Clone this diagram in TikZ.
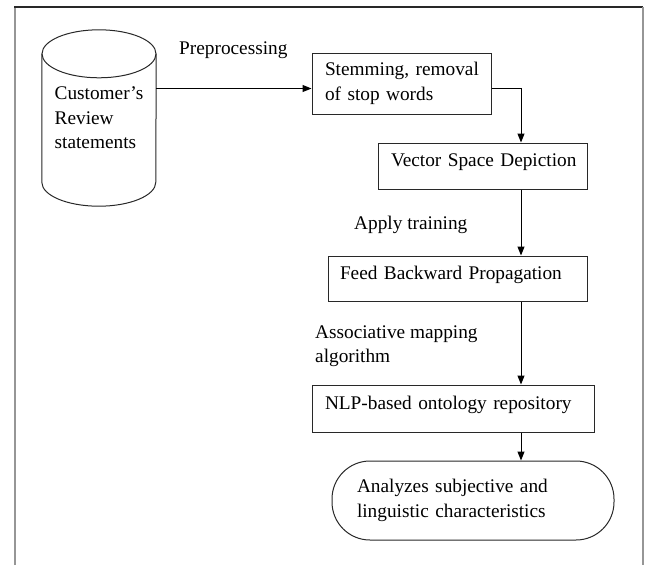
\documentclass[tikz,border=0pt]{standalone}
\usepackage{fontspec}
\setmainfont{Liberation Serif}
\usepackage{tikz}
\usetikzlibrary{shapes.geometric, arrows.meta, positioning, calc}
\definecolor{framegray}{RGB}{150, 150, 150}
\definecolor{linedark}{RGB}{40, 40, 40}

\tikzset{
    stepbox/.style={draw=linedark, line width=1pt, rectangle, align=left, inner xsep=13pt},
    flow/.style={line width=1pt, -{Triangle[length=9pt, width=7pt]}},
    lbl/.style={inner sep=0pt, anchor=base west, align=left}
}

\begin{document}
\begin{tikzpicture}[x=1pt, y=-1pt, font=\fontsize{19.3}{24.4}\selectfont]
        \useasboundingbox (0,0) rectangle (647,565);
        % outer frame, open at the bottom
        \draw[framegray, line width=2pt] (15,565) -- (15,7);
        \draw[linedark, line width=1.2pt] (14,7) -- (643,7);
        \draw[framegray, line width=1.5pt] (643,7) -- (643,565);

        % input store (body node, outline drawn round it)
        \node[minimum width=114pt, minimum height=128pt, align=left, inner sep=0pt]
              (rev) at (99,118) {Customer's\\Review\\statements};
        \draw[linedark, line width=1pt] (rev.north west) -- (rev.south west)
              arc[start angle=180, end angle=0, x radius=57, y radius=24] -- (rev.north east);
        \draw[linedark, line width=1pt] (rev.north) ellipse[x radius=57, y radius=24];

        % processing steps
        \node[stepbox, minimum width=179pt, minimum height=61pt, text width=153pt]
              (stem) at (401.5,83.5) {\mbox{Stemming, removal}\\\mbox{of stop words}};
        \node[stepbox, minimum width=209pt, inner ysep=0pt, text width=183pt,
              text height=23pt, text depth=23pt]
              (vsd) at (482.5,166) {\mbox{Vector Space Depiction}};
        \node[stepbox, inner xsep=12pt, minimum width=259pt, inner ysep=0pt, text width=235pt,
              text height=23pt, text depth=22pt]
              (fbp) at (457.5,278.5) {\mbox{Feed Backward Propagation}};
        \node[stepbox, minimum width=282pt, inner ysep=0pt, text width=256pt,
              text height=24pt, text depth=23pt]
              (onto) at (453,408.5) {\mbox{NLP-based ontology repository}};
        \node[draw=linedark, line width=1pt, rounded corners=38pt, align=left, inner xsep=25pt,
              text width=232pt, minimum width=282pt, minimum height=79pt]
              (anl) at (473,500.5) {Analyzes subjective and\\linguistic characteristics};

        % labels
        \node[lbl] (lpre) at (179,54) {Preprocessing};
        \node[lbl] (ltrain) at (354,229) {Apply training};
        \node[lbl, anchor=north west] (lmap) at (315,325.5) {Associative mapping\\algorithm};

        % connectors
        \draw[flow] ([yshift=-5pt]stem.west -| rev.east) -- ([yshift=-5pt]stem.west);
        \draw[flow] ([yshift=-5pt]stem.east) -| (vsd.north -| 521,0);
        \draw[flow] (vsd.south -| 521,0) -- (fbp.north -| 521,0);
        \draw[flow] (fbp.south -| 521,0) -- (onto.north -| 521,0);
        \draw[flow] (onto.south -| 521,0) -- (anl.north -| 521,0);
    \end{tikzpicture}
\end{document}
